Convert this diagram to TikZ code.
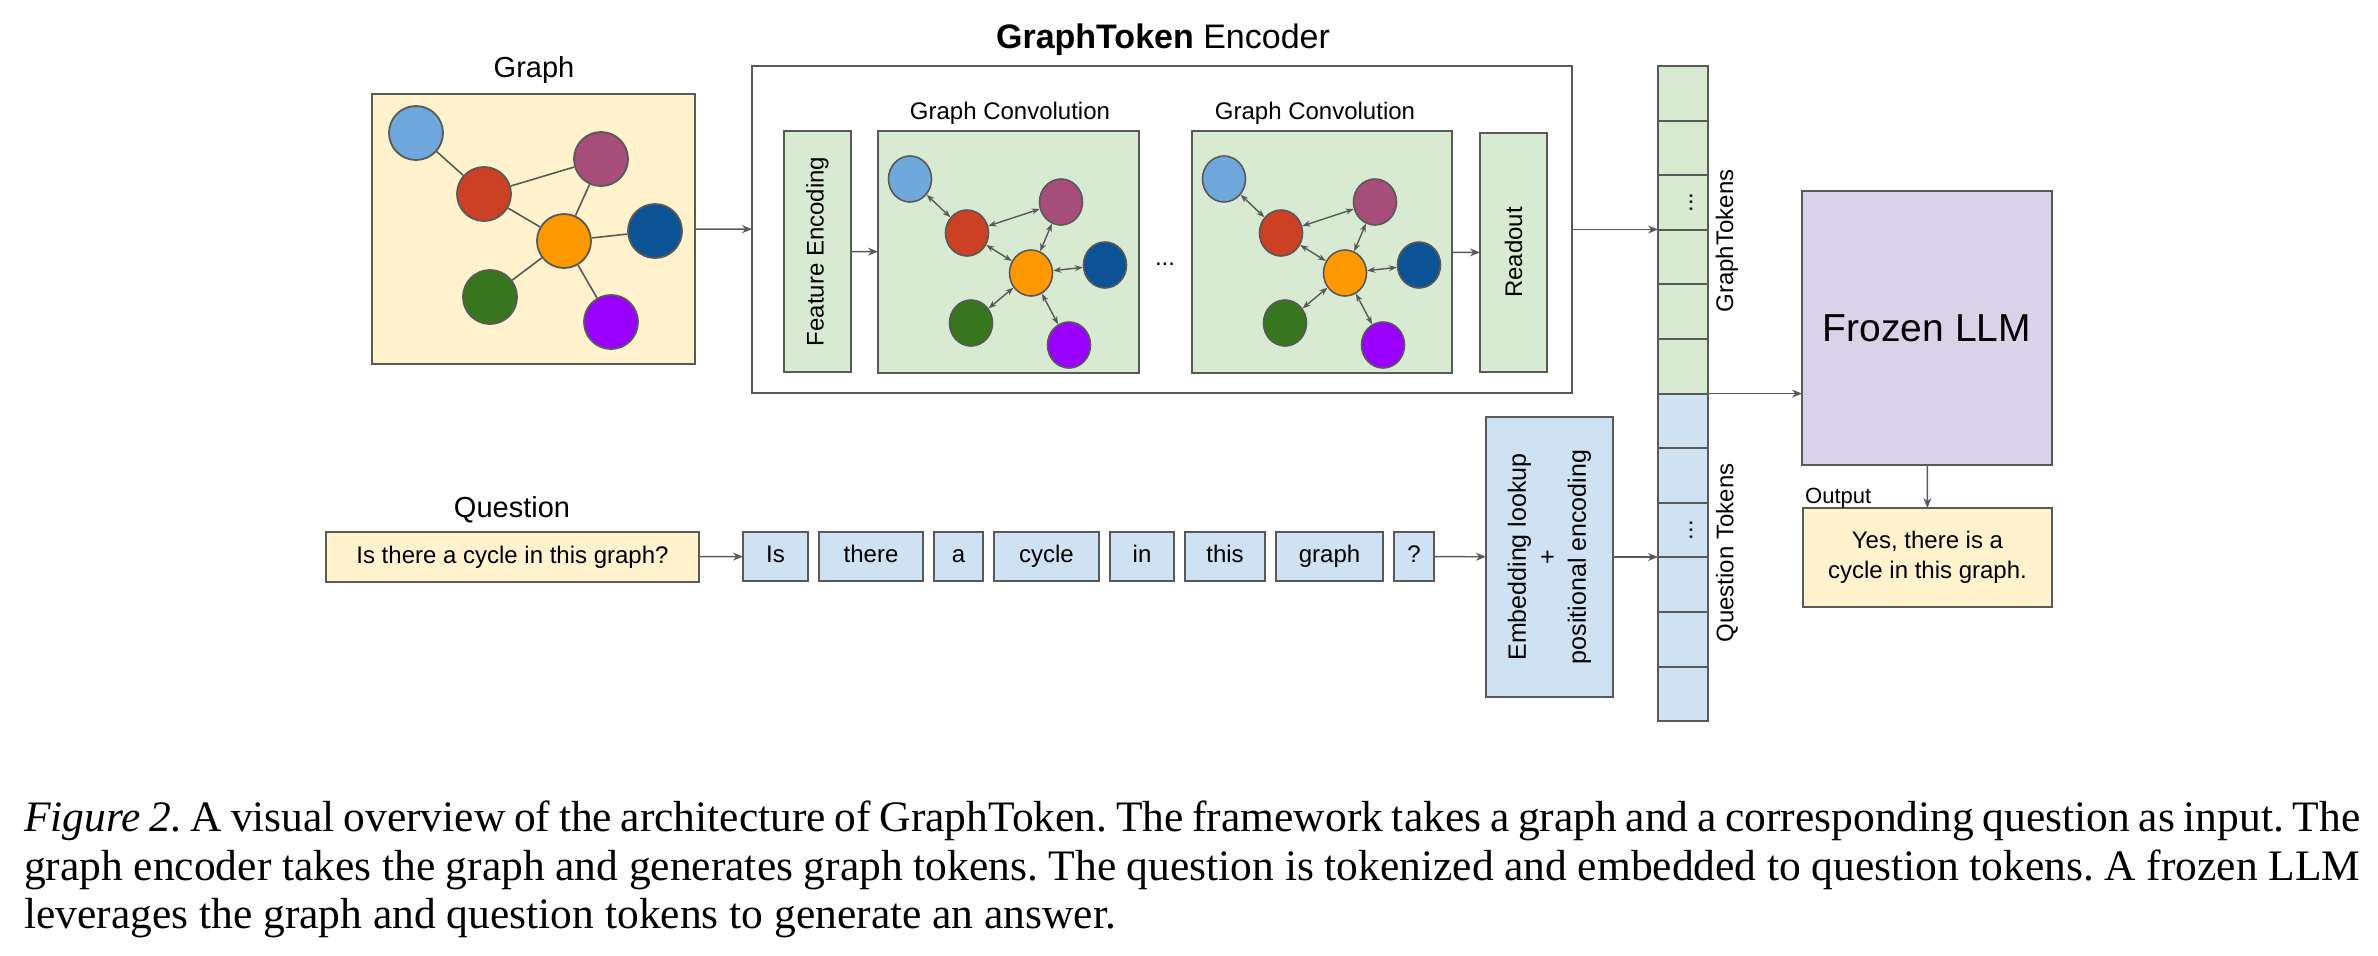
\documentclass[tikz,border=0pt]{standalone}
\usepackage{fontspec}
\setmainfont{Liberation Serif}
\setsansfont{Liberation Sans}
\usepackage{tikz}
\usetikzlibrary{arrows.meta,positioning,shapes.geometric}

\definecolor{edgegray}{HTML}{595959}
\definecolor{paleyellow}{HTML}{FFF2CC}
\definecolor{palegreen}{HTML}{D9EAD3}
\definecolor{paleblue}{HTML}{CFE2F3}
\definecolor{palepurple}{HTML}{D9D2E9}
\definecolor{nlightblue}{HTML}{6FA8DC}
\definecolor{nred}{HTML}{CC4125}
\definecolor{nmauve}{HTML}{A64D79}
\definecolor{norange}{HTML}{FF9900}
\definecolor{ndarkblue}{HTML}{0B5394}
\definecolor{ngreen}{HTML}{38761D}
\definecolor{nviolet}{HTML}{9900FF}

\newcommand{\outfs}{\fontsize{22pt}{26pt}\selectfont}
\newcommand{\boxfs}{\fontsize{24pt}{30pt}\selectfont}
\newcommand{\lblfs}{\fontsize{29pt}{34pt}\selectfont}
\newcommand{\titlefs}{\fontsize{34pt}{40pt}\selectfont}
\newcommand{\llmfs}{\fontsize{39pt}{46pt}\selectfont}
\newcommand{\capfs}{\fontsize{43.5pt}{48.5pt}\selectfont}

\begin{document}
\begin{tikzpicture}[x=1pt,y=-1pt,>={Stealth[length=10pt,width=8pt]},font=\sffamily\boxfs,
    box/.style={draw=edgegray,line width=2pt,inner sep=0pt,outer sep=0pt},
    cell/.style={box,minimum width=50pt,minimum height=54.6pt},
    token/.style={box,fill=paleblue,minimum height=49pt,text height=17pt,text depth=5pt},
    gnode/.style={circle,draw=edgegray,line width=1.8pt,minimum size=54pt,inner sep=0pt},
    cnode/.style={ellipse,draw=edgegray,line width=1.6pt,minimum width=43pt,minimum height=46pt,inner sep=0pt},
    link/.style={draw=edgegray,line width=1.6pt},
    msg/.style={draw=edgegray,line width=1.4pt,<->,>={Stealth[length=8pt,width=6pt]}},
    flow/.style={draw=edgegray,line width=1.4pt,->}]
  \useasboundingbox (0,0) rectangle (2378,956);

  % input graph
  \node[font=\sffamily\lblfs] (graphlbl) at (534,70) {Graph};
  \node[box,fill=paleyellow,minimum width=323pt,minimum height=270pt] (graph) at (533.5,229) {};
  \node[gnode,fill=nlightblue] (g1) at (416,133) {};
  \node[gnode,fill=nred] (g2) at (484,194) {};
  \node[gnode,fill=nmauve] (g3) at (601,159) {};
  \node[gnode,fill=norange] (g4) at (564,241) {};
  \node[gnode,fill=ndarkblue] (g5) at (655,231) {};
  \node[gnode,fill=ngreen] (g6) at (490,297) {};
  \node[gnode,fill=nviolet] (g7) at (611,322) {};
  \path[link] (g1) edge (g2) (g2) edge (g3) (g2) edge (g4) (g3) edge (g4)
    (g4) edge (g5) (g4) edge (g6) (g4) edge (g7);

  % encoder
  \node[font=\sffamily\titlefs] (enclbl) at (1163,40) {\textbf{GraphToken} Encoder};
  \node[box,minimum width=820pt,minimum height=327pt] (enc) at (1162,229.5) {};
  \node[box,fill=palegreen,minimum width=67pt,minimum height=241pt] (feat) at (817.5,251.5) {};
  \node[rotate=90] at (feat) {Feature Encoding};
  \node[box,fill=palegreen,minimum width=261pt,minimum height=242pt] (conv1) at (1008.5,252) {};
  \node[box,fill=palegreen,minimum width=260pt,minimum height=242pt] (conv2) at (1322,252) {};
  \node[box,fill=palegreen,minimum width=67pt,minimum height=239pt] (readout) at (1513.5,252.5) {};
  \node[rotate=90] at (readout) {Readout};
  \node (conv1lbl) at (1010,113) {Graph Convolution};
  \node (conv2lbl) at (1315,113) {Graph Convolution};
  \node (dots) at (1165,264) {...};

  \node[cnode,fill=nlightblue] (a1) at (910,179) {};
  \node[cnode,fill=nred] (b1) at (967,233) {};
  \node[cnode,fill=nmauve] (c1) at (1061,202) {};
  \node[cnode,fill=norange] (d1) at (1031,273) {};
  \node[cnode,fill=ndarkblue] (e1) at (1105,265) {};
  \node[cnode,fill=ngreen] (f1) at (971,323) {};
  \node[cnode,fill=nviolet] (h1) at (1069,345) {};
  \path[msg] (a1) edge (b1) (b1) edge (c1) (b1) edge (d1) (c1) edge (d1)
    (d1) edge (e1) (d1) edge (f1) (d1) edge (h1);

  \node[cnode,fill=nlightblue] (a2) at (1224,179) {};
  \node[cnode,fill=nred] (b2) at (1281,233) {};
  \node[cnode,fill=nmauve] (c2) at (1375,202) {};
  \node[cnode,fill=norange] (d2) at (1345,273) {};
  \node[cnode,fill=ndarkblue] (e2) at (1419,265) {};
  \node[cnode,fill=ngreen] (f2) at (1285,323) {};
  \node[cnode,fill=nviolet] (h2) at (1383,345) {};
  \path[msg] (a2) edge (b2) (b2) edge (c2) (b2) edge (d2) (c2) edge (d2)
    (d2) edge (e2) (d2) edge (f2) (d2) edge (h2);

  \draw[flow] (graph) -- (enc);
  \draw[flow] (feat) -- (conv1);
  \draw[flow] (conv2) -- (readout);

  % token column
  \node[cell,fill=palegreen] (t1) at (1683,93.3) {};
  \node[cell,fill=palegreen,below=0pt of t1] (t2) {};
  \node[cell,fill=palegreen,below=0pt of t2] (t3) {};
  \node[cell,fill=palegreen,below=0pt of t3] (t4) {};
  \node[cell,fill=palegreen,below=0pt of t4] (t5) {};
  \node[cell,fill=palegreen,below=0pt of t5] (t6) {};
  \node[cell,fill=paleblue,below=0pt of t6] (t7) {};
  \node[cell,fill=paleblue,below=0pt of t7] (t8) {};
  \node[cell,fill=paleblue,below=0pt of t8] (t9) {};
  \node[cell,fill=paleblue,below=0pt of t9] (t10) {};
  \node[cell,fill=paleblue,below=0pt of t10] (t11) {};
  \node[cell,fill=paleblue,below=0pt of t11] (t12) {};
  \node[rotate=90] at ([xshift=8pt]t3.center) {...};
  \node[rotate=90] at ([xshift=8pt]t9.center) {...};
  \node[rotate=90] (gtlbl) at (1727,241) {GraphTokens};
  \node[rotate=90] (qtlbl) at (1727,553) {Question Tokens};
  \draw[flow] (enc) -- (enc -| t1.west);

  % question
  \node[font=\sffamily\lblfs] (qlbl) at (512,510) {Question};
  \node[box,fill=paleyellow,minimum width=373pt,minimum height=50pt] (question) at (512.5,557) {Is there a cycle in this graph?};
  \node[token,minimum width=65pt] (tIs) at (775.5,556.5) {Is};
  \node[token,minimum width=104pt,right=11pt of tIs] (tThere) {there};
  \node[token,minimum width=49pt,right=11pt of tThere] (tA) {a};
  \node[token,minimum width=105pt,right=11pt of tA] (tCycle) {cycle};
  \node[token,minimum width=64pt,right=11pt of tCycle] (tIn) {in};
  \node[token,minimum width=80pt,right=11pt of tIn] (tThis) {this};
  \node[token,minimum width=107pt,right=11pt of tThis] (tGraph) {graph};
  \node[token,minimum width=40pt,right=11pt of tGraph] (tQm) {?};
  \node[box,fill=paleblue,minimum width=127pt,minimum height=280pt] (emb) at (1549.5,557) {};
  \node[rotate=90,align=center,font=\sffamily\fontsize{25pt}{30pt}\selectfont] at (emb) {Embedding lookup\\+\\positional encoding};
  \draw[flow] (question) -- (tIs);
  \draw[flow] (tQm) -- (emb);
  \draw[flow] (emb) -- (emb -| t1.west);

  % llm and answer
  \node[box,fill=palepurple,minimum width=250pt,minimum height=274pt,font=\sffamily\llmfs] (llm) at (1927,328) {Frozen LLM};
  \node[box,fill=paleyellow,minimum width=249pt,minimum height=99pt,align=center] (out) at (1927.5,557.5) {Yes, there is a\\cycle in this graph.};
  \node[anchor=south west,inner sep=0pt,font=\sffamily\outfs] (outlbl) at ([xshift=2pt]out.north west) {Output};
  \draw[flow] (t6.south east) -- (t6.south east -| llm.west);
  \draw[flow] (llm) -- (out);

  % caption
  \node[anchor=north west,inner sep=0pt,text width=2336pt,align=justify,font=\rmfamily\capfs] (caption) at (24,801)
    {\frenchspacing\textit{Figure 2.} A visual overview of the architecture of GraphToken. The framework takes a graph and a corresponding question as input. The\linebreak
    graph encoder takes the graph and generates graph tokens. The question is tokenized and embedded to question tokens. A frozen LLM\linebreak
    leverages the graph and question tokens to generate an answer.};
\end{tikzpicture}
\end{document}
